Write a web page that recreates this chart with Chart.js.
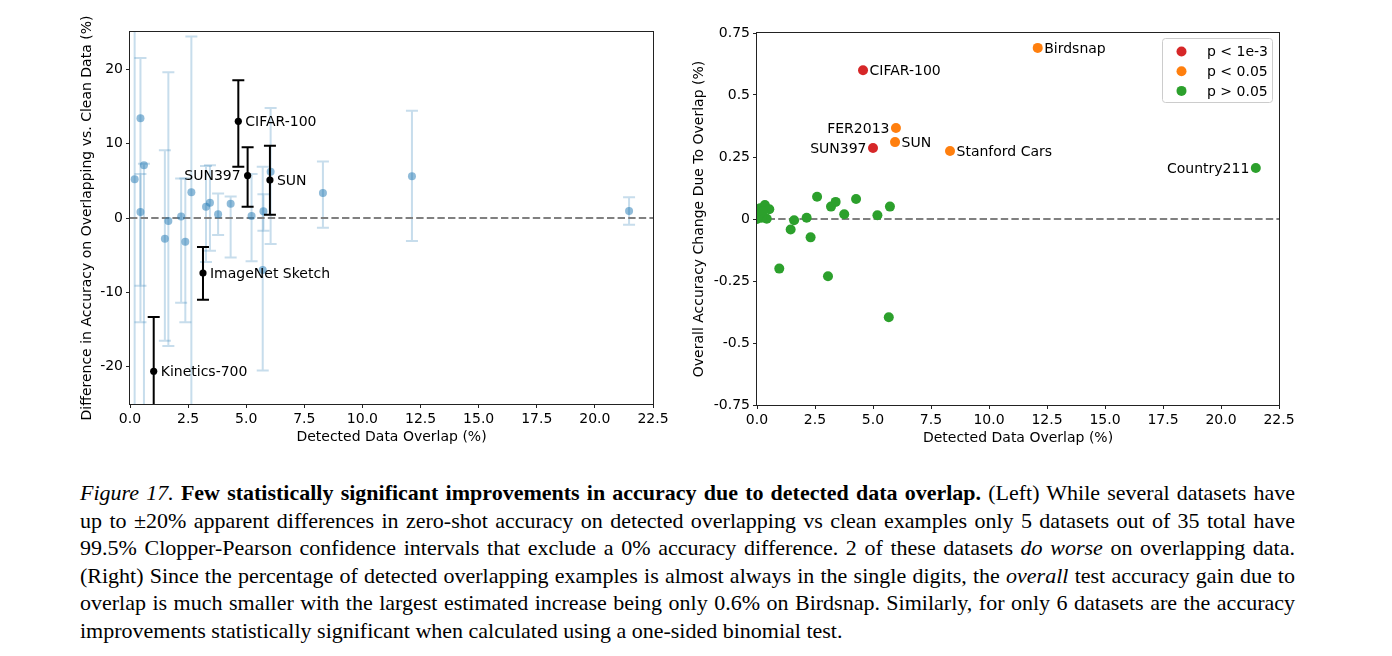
<!DOCTYPE html>
<html>
<head>
<meta charset="utf-8">
<script src="https://cdn.jsdelivr.net/npm/chart.js@4.4.0/dist/chart.umd.min.js"></script>
<style>
  body { margin: 0; background: #fff; width: 1392px; height: 656px; overflow: hidden; position: relative; }
  #chartL { position: absolute; left: 0; top: 0; }
  #chartR { position: absolute; left: 680px; top: 0; }
  .cap { position: absolute; left: 80px; top: 479px; width: 1215px; font-family: 'Liberation Serif', serif; font-size: 22px; color: #000; }
  .cap div { line-height: 27.5px; height: 27.5px; text-align: justify; text-align-last: justify; white-space: nowrap; }
  .cap div.last { text-align-last: left; }
</style>
</head>
<body>
<canvas id="chartL" width="680" height="460"></canvas>
<canvas id="chartR" width="630" height="460"></canvas>
<div class="cap">
  <div><i>Figure 17.</i> <b>Few statistically significant improvements in accuracy due to detected data overlap.</b> (Left) While several datasets have</div>
  <div>up to ±20% apparent differences in zero-shot accuracy on detected overlapping vs clean examples only 5 datasets out of 35 total have</div>
  <div>99.5% Clopper-Pearson confidence intervals that exclude a 0% accuracy difference. 2 of these datasets <i>do worse</i> on overlapping data.</div>
  <div>(Right) Since the percentage of detected overlapping examples is almost always in the single digits, the <i>overall</i> test accuracy gain due to</div>
  <div>overlap is much smaller with the largest estimated increase being only 0.6% on Birdsnap. Similarly, for only 6 datasets are the accuracy</div>
  <div class="last">improvements statistically significant when calculated using a one-sided binomial test.</div>
</div>
<script>
// ---- left panel: difference in accuracy, with 99.5% intervals ----
var overlapX = [0.2, 0.45, 0.6, 0.45, 1.5, 1.65, 2.2, 2.38, 2.64, 3.27, 3.44, 3.79, 4.33, 5.23, 5.74, 5.71, 6.05, 8.3, 12.13, 21.47];
var diffY    = [5.2, 13.4, 7.1, 0.8, -2.8, -0.4, 0.2, -3.2, 3.45, 1.5, 2.05, 0.5, 1.9, 0.27, 0.9, -7.0, 6.2, 3.35, 5.6, 0.94];
var diffLo   = [-30, -14, -30, -9.1, -16.5, -17.2, -11.4, -14, -30, -5.9, -4.4, -2.3, -5.3, -5.8, -1.7, -20.5, -3.5, -1.3, -3.1, -0.9];
var diffHi   = [30, 21.5, 7.3, 5.9, 9.1, 19.6, 5.3, 5.3, 24.4, 7.0, 7.1, 3.3, 2.9, 5.9, 3.2, 6.9, 14.8, 7.6, 14.4, 2.8];

var sigNames = ['CIFAR-100', 'SUN397', 'SUN', 'ImageNet Sketch', 'Kinetics-700'];
var sigX  = [4.66, 5.06, 6.02, 3.14, 1.02];
var sigY  = [13.0, 5.7, 5.1, -7.4, -20.6];
var sigLo = [6.9, 1.5, 0.45, -11.0, -30];
var sigHi = [18.5, 9.5, 9.7, -3.9, -13.3];

// ---- right panel: overall accuracy change ----
var redNames = ['CIFAR-100', 'SUN397'];
var redX = [4.57, 5.0];
var redY = [0.60, 0.286];
var orangeNames = ['Birdsnap', 'FER2013', 'SUN', 'Stanford Cars'];
var orangeX = [12.1, 5.99, 5.95, 8.32];
var orangeY = [0.69, 0.367, 0.31, 0.274];
var greenNames = ['Country211'];
var greenX = [21.5, 0.13, 0.34, 0.53, 0.42, 0.06, 0.0, 0.2, 0.05, 0.25, 0.96, 1.45, 1.6, 2.14, 2.31, 2.59, 3.06, 3.19, 3.39, 3.76, 4.27, 5.19, 5.73, 5.68];
var greenY = [0.206, 0.043, 0.056, 0.039, 0.001, 0.019, 0.0, 0.005, 0.01, 0.03, -0.2, -0.042, -0.005, 0.005, -0.074, 0.09, -0.231, 0.05, 0.069, 0.019, 0.081, 0.015, 0.05, -0.396];

var xTicks = [0, 2.5, 5, 7.5, 10, 12.5, 15, 17.5, 20, 22.5];
var yTicksL = [-20, -10, 0, 10, 20];
var yTicksR = [-0.75, -0.5, -0.25, 0, 0.25, 0.5, 0.75];

var FONT = "'DejaVu Sans', sans-serif";
var FS = 14;
Chart.defaults.color = '#000';
Chart.defaults.font.family = FONT;
Chart.defaults.font.size = FS;

function pts(xs, ys) {
  return xs.map(function (x, i) { return { x: x, y: ys[i] }; });
}

function clipArea(ctx, a) {
  ctx.beginPath();
  ctx.rect(a.left, a.top, a.right - a.left, a.bottom - a.top);
  ctx.clip();
}

function drawErrBars(chart, xs, los, his, color, capW, lw) {
  var ctx = chart.ctx, xS = chart.scales.x, yS = chart.scales.y;
  ctx.save();
  clipArea(ctx, chart.chartArea);
  ctx.strokeStyle = color;
  ctx.lineWidth = lw;
  for (var i = 0; i < xs.length; i++) {
    var px = xS.getPixelForValue(xs[i]);
    var y1 = yS.getPixelForValue(los[i]);
    var y2 = yS.getPixelForValue(his[i]);
    ctx.beginPath();
    ctx.moveTo(px, y1); ctx.lineTo(px, y2);
    ctx.moveTo(px - capW / 2, y1); ctx.lineTo(px + capW / 2, y1);
    ctx.moveTo(px - capW / 2, y2); ctx.lineTo(px + capW / 2, y2);
    ctx.stroke();
  }
  ctx.restore();
}

function drawZeroLine(chart) {
  var ctx = chart.ctx, a = chart.chartArea;
  var py = chart.scales.y.getPixelForValue(0);
  ctx.save();
  ctx.strokeStyle = '#808080';
  ctx.lineWidth = 2;
  ctx.setLineDash([7.4, 3.2]);
  ctx.beginPath();
  ctx.moveTo(a.left, py); ctx.lineTo(a.right, py);
  ctx.stroke();
  ctx.restore();
}

function drawLabels(chart, names, xs, ys, leftSide, off) {
  var ctx = chart.ctx;
  ctx.save();
  ctx.font = FS + 'px ' + FONT;
  ctx.fillStyle = '#000';
  ctx.textBaseline = 'middle';
  for (var i = 0; i < names.length; i++) {
    var px = chart.scales.x.getPixelForValue(xs[i]);
    var py = chart.scales.y.getPixelForValue(ys[i]);
    if (leftSide.indexOf(names[i]) >= 0) {
      ctx.textAlign = 'right';
      ctx.fillText(names[i], px - off, py + 1);
    } else {
      ctx.textAlign = 'left';
      ctx.fillText(names[i], px + off, py + 1);
    }
  }
  ctx.restore();
}

function drawFrame(chart) {
  var ctx = chart.ctx, a = chart.chartArea;
  ctx.save();
  ctx.strokeStyle = '#222';
  ctx.lineWidth = 1;
  ctx.strokeRect(Math.round(a.left) - 0.5, Math.round(a.top) - 0.5, Math.round(a.right - a.left) + 1, Math.round(a.bottom - a.top) + 1);
  ctx.restore();
}

function scaleOpts(min, max, ticks, title, fmt, isX, fitSize, titlePad) {
  return {
    type: 'linear',
    position: isX ? 'bottom' : 'left',
    min: min,
    max: max,
    afterBuildTicks: function (s) { s.ticks = ticks.map(function (v) { return { value: v }; }); },
    afterFit: function (s) { if (isX) { s.height = fitSize; } else { s.width = fitSize; } },
    grid: { display: true, drawOnChartArea: false, drawTicks: true, tickLength: 4, color: '#222' },
    border: { display: false },
    ticks: { padding: 3, color: '#000', font: { size: FS }, callback: fmt, maxRotation: 0, autoSkip: false },
    title: { display: true, text: title, color: '#000', font: { size: FS }, padding: titlePad }
  };
}

new Chart(document.getElementById('chartL').getContext('2d'), {
  type: 'scatter',
  data: {
    datasets: [{
      label: 'significant',
      data: pts(sigX, sigY),
      pointRadius: 3.6,
      pointBackgroundColor: '#000',
      pointBorderWidth: 0
    }, {
      label: 'all',
      data: pts(overlapX, diffY),
      pointRadius: 4,
      pointBackgroundColor: 'rgba(31, 119, 180, 0.5)',
      pointBorderWidth: 0
    }]
  },
  options: {
    responsive: false,
    animation: false,
    events: [],
    layout: { padding: { left: 71, top: 32, right: 27, bottom: 10 } },
    plugins: { legend: { display: false }, tooltip: { enabled: false } },
    scales: {
      x: scaleOpts(0, 22.5, xTicks, 'Detected Data Overlap (%)', function (v) { return Number(v).toFixed(1); }, true, 46, { top: 2, bottom: 4 }),
      y: scaleOpts(-25, 25, yTicksL, 'Difference in Accuracy on Overlapping vs. Clean Data (%)', function (v) { return String(v); }, false, 59, { top: 8, bottom: 0 })
    }
  },
  plugins: [{
    id: 'extrasL',
    beforeDatasetsDraw: function (chart) {
      drawErrBars(chart, overlapX, diffLo, diffHi, 'rgba(31, 119, 180, 0.25)', 12, 2);
      drawZeroLine(chart);
    },
    afterDatasetDraw: function (chart, args) {
      if (args.index === 1) {
        drawErrBars(chart, sigX, sigLo, sigHi, '#000', 12, 2);
      }
    },
    afterDraw: function (chart) {
      drawLabels(chart, sigNames, sigX, sigY, ['SUN397'], 7);
      drawFrame(chart);
    }
  }]
});

var legendItems = [
  { text: 'p < 1e-3', color: '#d62728' },
  { text: 'p < 0.05', color: '#ff7f0e' },
  { text: 'p > 0.05', color: '#2ca02c' }
];

new Chart(document.getElementById('chartR').getContext('2d'), {
  type: 'scatter',
  data: {
    datasets: [{
      label: 'p < 1e-3',
      data: pts(redX, redY),
      pointRadius: 5,
      pointBackgroundColor: '#d62728',
      pointBorderWidth: 0
    }, {
      label: 'p < 0.05',
      data: pts(orangeX, orangeY),
      pointRadius: 5,
      pointBackgroundColor: '#ff7f0e',
      pointBorderWidth: 0
    }, {
      label: 'p > 0.05',
      data: pts(greenX, greenY),
      pointRadius: 5,
      pointBackgroundColor: '#2ca02c',
      pointBorderWidth: 0
    }]
  },
  options: {
    responsive: false,
    animation: false,
    events: [],
    layout: { padding: { left: 3, top: 33, right: 31, bottom: 9 } },
    plugins: { legend: { display: false }, tooltip: { enabled: false } },
    scales: {
      x: scaleOpts(0, 22.5, xTicks, 'Detected Data Overlap (%)', function (v) { return Number(v).toFixed(1); }, true, 46, { top: 2, bottom: 4 }),
      y: scaleOpts(-0.75, 0.75, yTicksR, 'Overall Accuracy Change Due To Overlap (%)', function (v) { return String(v); }, false, 74, { top: 8, bottom: 0 })
    }
  },
  plugins: [{
    id: 'extrasR',
    beforeDatasetsDraw: function (chart) {
      drawZeroLine(chart);
    },
    afterDraw: function (chart) {
      var left = ['SUN397', 'FER2013', 'Country211'];
      drawLabels(chart, redNames, redX, redY, left, 6.5);
      drawLabels(chart, orangeNames, orangeX, orangeY, left, 6.5);
      drawLabels(chart, greenNames, greenX, greenY, left, 6.5);
      drawFrame(chart);

      // legend box in the upper right of the axes
      var ctx = chart.ctx, a = chart.chartArea;
      var w = 110, h = 64;
      var bx = a.right - 7 - w, by = a.top + 5;
      ctx.save();
      ctx.fillStyle = 'rgba(255,255,255,0.8)';
      ctx.strokeStyle = '#cccccc';
      ctx.lineWidth = 1;
      ctx.beginPath();
      ctx.roundRect(bx + 0.5, by + 0.5, w, h, 3);
      ctx.fill();
      ctx.stroke();
      ctx.font = FS + 'px ' + FONT;
      ctx.textBaseline = 'middle';
      ctx.textAlign = 'left';
      legendItems.forEach(function (it, i) {
        var cy = by + 13.5 + i * 19.7;
        ctx.fillStyle = it.color;
        ctx.beginPath();
        ctx.arc(bx + 19.5, cy, 5, 0, Math.PI * 2);
        ctx.fill();
        ctx.fillStyle = '#000';
        ctx.fillText(it.text, bx + 45, cy + 1);
      });
      ctx.restore();
    }
  }]
});
</script>
</body>
</html>
